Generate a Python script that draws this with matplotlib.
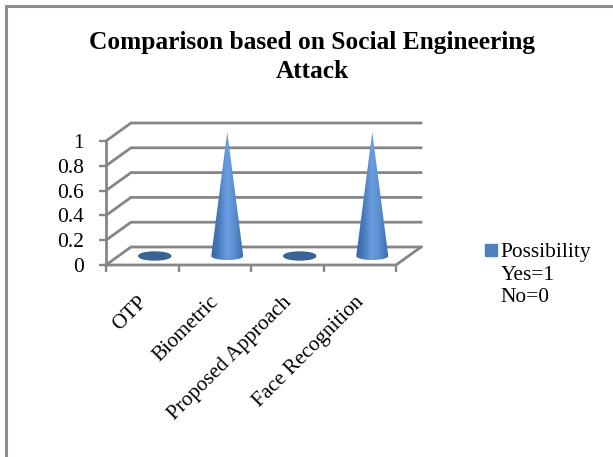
"""
Cone chart, Excel style: social engineering attack comparison.
"""
import matplotlib
matplotlib.use("Agg")
import matplotlib.pyplot as plt
import numpy as np
from matplotlib.colors import LinearSegmentedColormap
from matplotlib.lines import Line2D
from matplotlib.patches import Ellipse, Patch, Polygon

categories = ["OTP", "Biometric", "Proposed Approach", "Face Recognition"]
possibility = [0, 1, 0, 1]
y_ticks = [0, 0.2, 0.4, 0.6, 0.8, 1]
y_labels = ["0", "0.2", "0.4", "0.6", "0.8", "1"]
title = "Comparison based on Social Engineering\nAttack"
legend_labels = ["Possibility", "Yes=1", "No=0"]

W, H = 613, 457
GRID = "#868686"
BLUE = "#4f81bd"
FLAT = "#3a6496"

plt.rcParams["font.family"] = ["Liberation Serif", "DejaVu Serif"]

fig = plt.figure(figsize=(W / 100, H / 100), dpi=100)

# front plane of the fake 3D box, in pixels
left, right, top, bottom = 106, 396, 141, 265
ax = fig.add_axes([left / W, 1 - bottom / H, (right - left) / W, (bottom - top) / H])
ax.patch.set_visible(False)
for s in ax.spines.values():
    s.set_visible(False)

n = len(categories)
x0, x1 = -0.5, n - 0.5
px_x = (x1 - x0) / (right - left)
px_y = 1 / (bottom - top)
dx, dy = 25 * px_x, 18 * px_y  # depth offset of the back wall

# walls
for t in y_ticks:
    ax.plot([x0, x0 + dx, x1 + dx], [t, t + dy, t + dy], color=GRID, lw=2,
            clip_on=False, solid_joinstyle="miter", zorder=1)
ax.plot([x0, x0], [0, 1], color=GRID, lw=2, clip_on=False, zorder=2)
ax.plot([x0, x1, x1 + dx], [0, 0, dy], color=GRID, lw=2, clip_on=False, zorder=2)

# cones
cmap = LinearSegmentedColormap.from_list("cone", ["#3566a2", "#4a7dbd", "#6b9de2", "#5a8ccf", "#3c6fae"])
shade = np.linspace(0, 1, 64).reshape(1, -1)
half_w, half_h = 16 * px_x, 4 * px_y
for i, v in enumerate(possibility):
    cx, cy = i + dx / 2, dy / 2
    if v == 0:
        ax.add_patch(Ellipse((cx, cy), 2 * half_w, 2 * half_h, color=FLAT, zorder=3, clip_on=False))
        continue
    a = np.linspace(np.pi, 2 * np.pi, 40)
    outline = np.column_stack([cx + half_w * np.cos(a), cy + half_h * np.sin(a)])
    outline = np.vstack([outline, [cx, cy + v]])
    patch = Polygon(outline, closed=True, transform=ax.transData, fc="none", ec="none")
    ax.add_patch(patch)
    im = ax.imshow(shade, cmap=cmap, aspect="auto", zorder=3,
                   extent=[cx - half_w, cx + half_w, cy - half_h, cy + v])
    im.set_clip_path(patch)
    im.set_clip_box(fig.bbox)  # tip sits above the axes box

ax.set_xlim(x0, x1)
ax.set_ylim(0, 1)

ax.set_xticks(np.arange(n + 1) - 0.5)
ax.set_xticklabels([])
ax.set_xticks(np.arange(n) - 0.07, labels=categories, minor=True, rotation=45,
              ha="right", va="top", rotation_mode="anchor", fontsize=15.2)
ax.set_yticks(y_ticks, labels=y_labels, fontsize=15.5)
ax.tick_params(axis="both", which="major", color=GRID, width=1.7, length=5)
ax.tick_params(axis="x", which="minor", length=0, pad=20)
ax.tick_params(axis="y", pad=11)

fig.text(312 / W, 1 - 57 / H, title, ha="center", va="center", fontsize=18.3,
         fontweight="bold", linespacing=1.32)

handles = [Patch(color=BLUE), Patch(fc="none", ec="none"), Patch(fc="none", ec="none")]
fig.legend(handles=handles, labels=legend_labels, loc="upper left",
           bbox_to_anchor=(479 / W, 1 - 237 / H), frameon=False, fontsize=15.4,
           handlelength=0.52, handleheight=0.52, handletextpad=0.2, labelspacing=0.15,
           borderpad=0.3, borderaxespad=0)

# chart frame: only top and left edges show in the crop
fig.add_artist(Line2D([6 / W, 6 / W, 1], [0, 1 - 5.5 / H, 1 - 5.5 / H], color="#8c8c8c", lw=2.2,
                      solid_joinstyle="miter"))

fig.savefig("out.png", dpi=100)
